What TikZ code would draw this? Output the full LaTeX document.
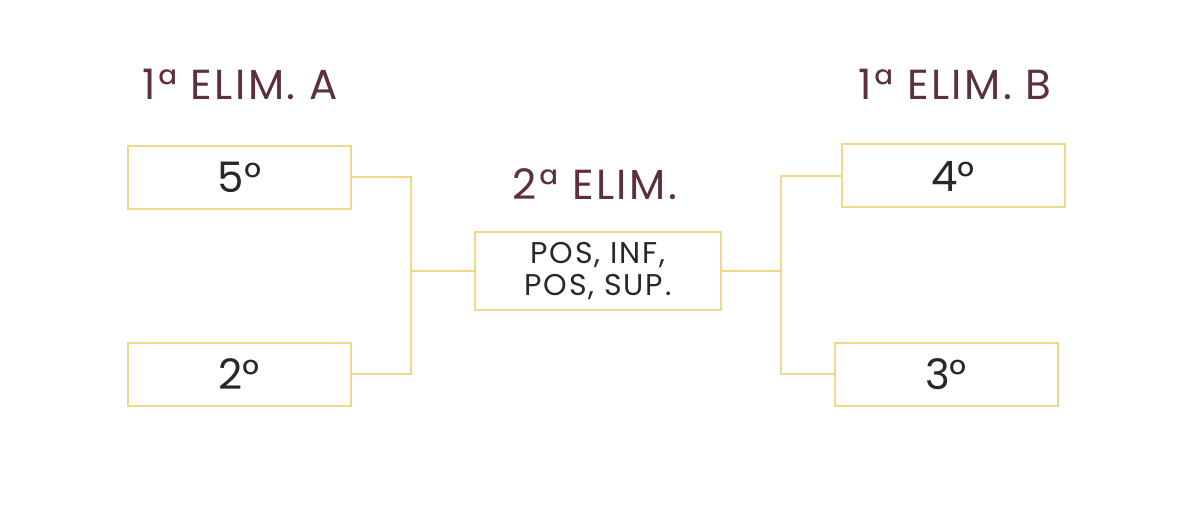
\documentclass[tikz,border=0pt]{standalone}
\usepackage{fontspec}
\setmainfont{Poppins}
\usetikzlibrary{calc}
\definecolor{gold}{RGB}{240,216,138}
\definecolor{wine}{RGB}{92,48,64}
\definecolor{ink}{RGB}{40,40,40}
\tikzset{
	seed/.style={draw=gold, line width=1pt, minimum width=111.5pt, minimum height=31.5pt, inner sep=0pt, text=ink, font=\fontsize{21}{24}\selectfont},
	round title/.style={text=wine, anchor=base, font=\fontsize{21}{24}\selectfont\addfontfeatures{LetterSpace=6}},
	link/.style={draw=gold, line width=1pt}
}

\begin{document}
\begin{tikzpicture}[x=0.5pt, y=0.5pt]
			%%%%% START %%%%%
			
			\useasboundingbox (0, 0) rectangle (1200, 523);
			
			\node[round title] (titleA) at (240, 423) {1ª ELIM. A};
			\node[round title] (titleB) at (955, 423) {1ª ELIM. B};
			\node[round title] (titleM) at (595, 323) {2ª ELIM.};
			
			\node[seed] (five) at (239.5, 345.5) {5°};
			\node[seed] (two) at (239.5, 148.5) {2°};
			\node[seed] (four) at (953, 347) {4°};
			\node[seed] (three) at (946, 148.5) {3°};
			
			\node[seed, minimum width=123pt, minimum height=39pt, align=center, font=\fontsize{15}{16}\selectfont\addfontfeatures{LetterSpace=6}] (mid) at (598, 252) {POS, INF,\\POS, SUP.};
			
			\coordinate (jl) at (411, 250);
			\coordinate (jr) at (781, 250);
			
			\draw[link] (five.east) -| (jl) |- (two.east);
			\draw[link] (jl |- mid.west) -- (mid.west);
			
			\draw[link] (four.west) -| (jr) |- (three.west);
			\draw[link] (mid.east) -- (jr |- mid.east);
			
			%%%%% END %%%%%
		\end{tikzpicture}
\end{document}
